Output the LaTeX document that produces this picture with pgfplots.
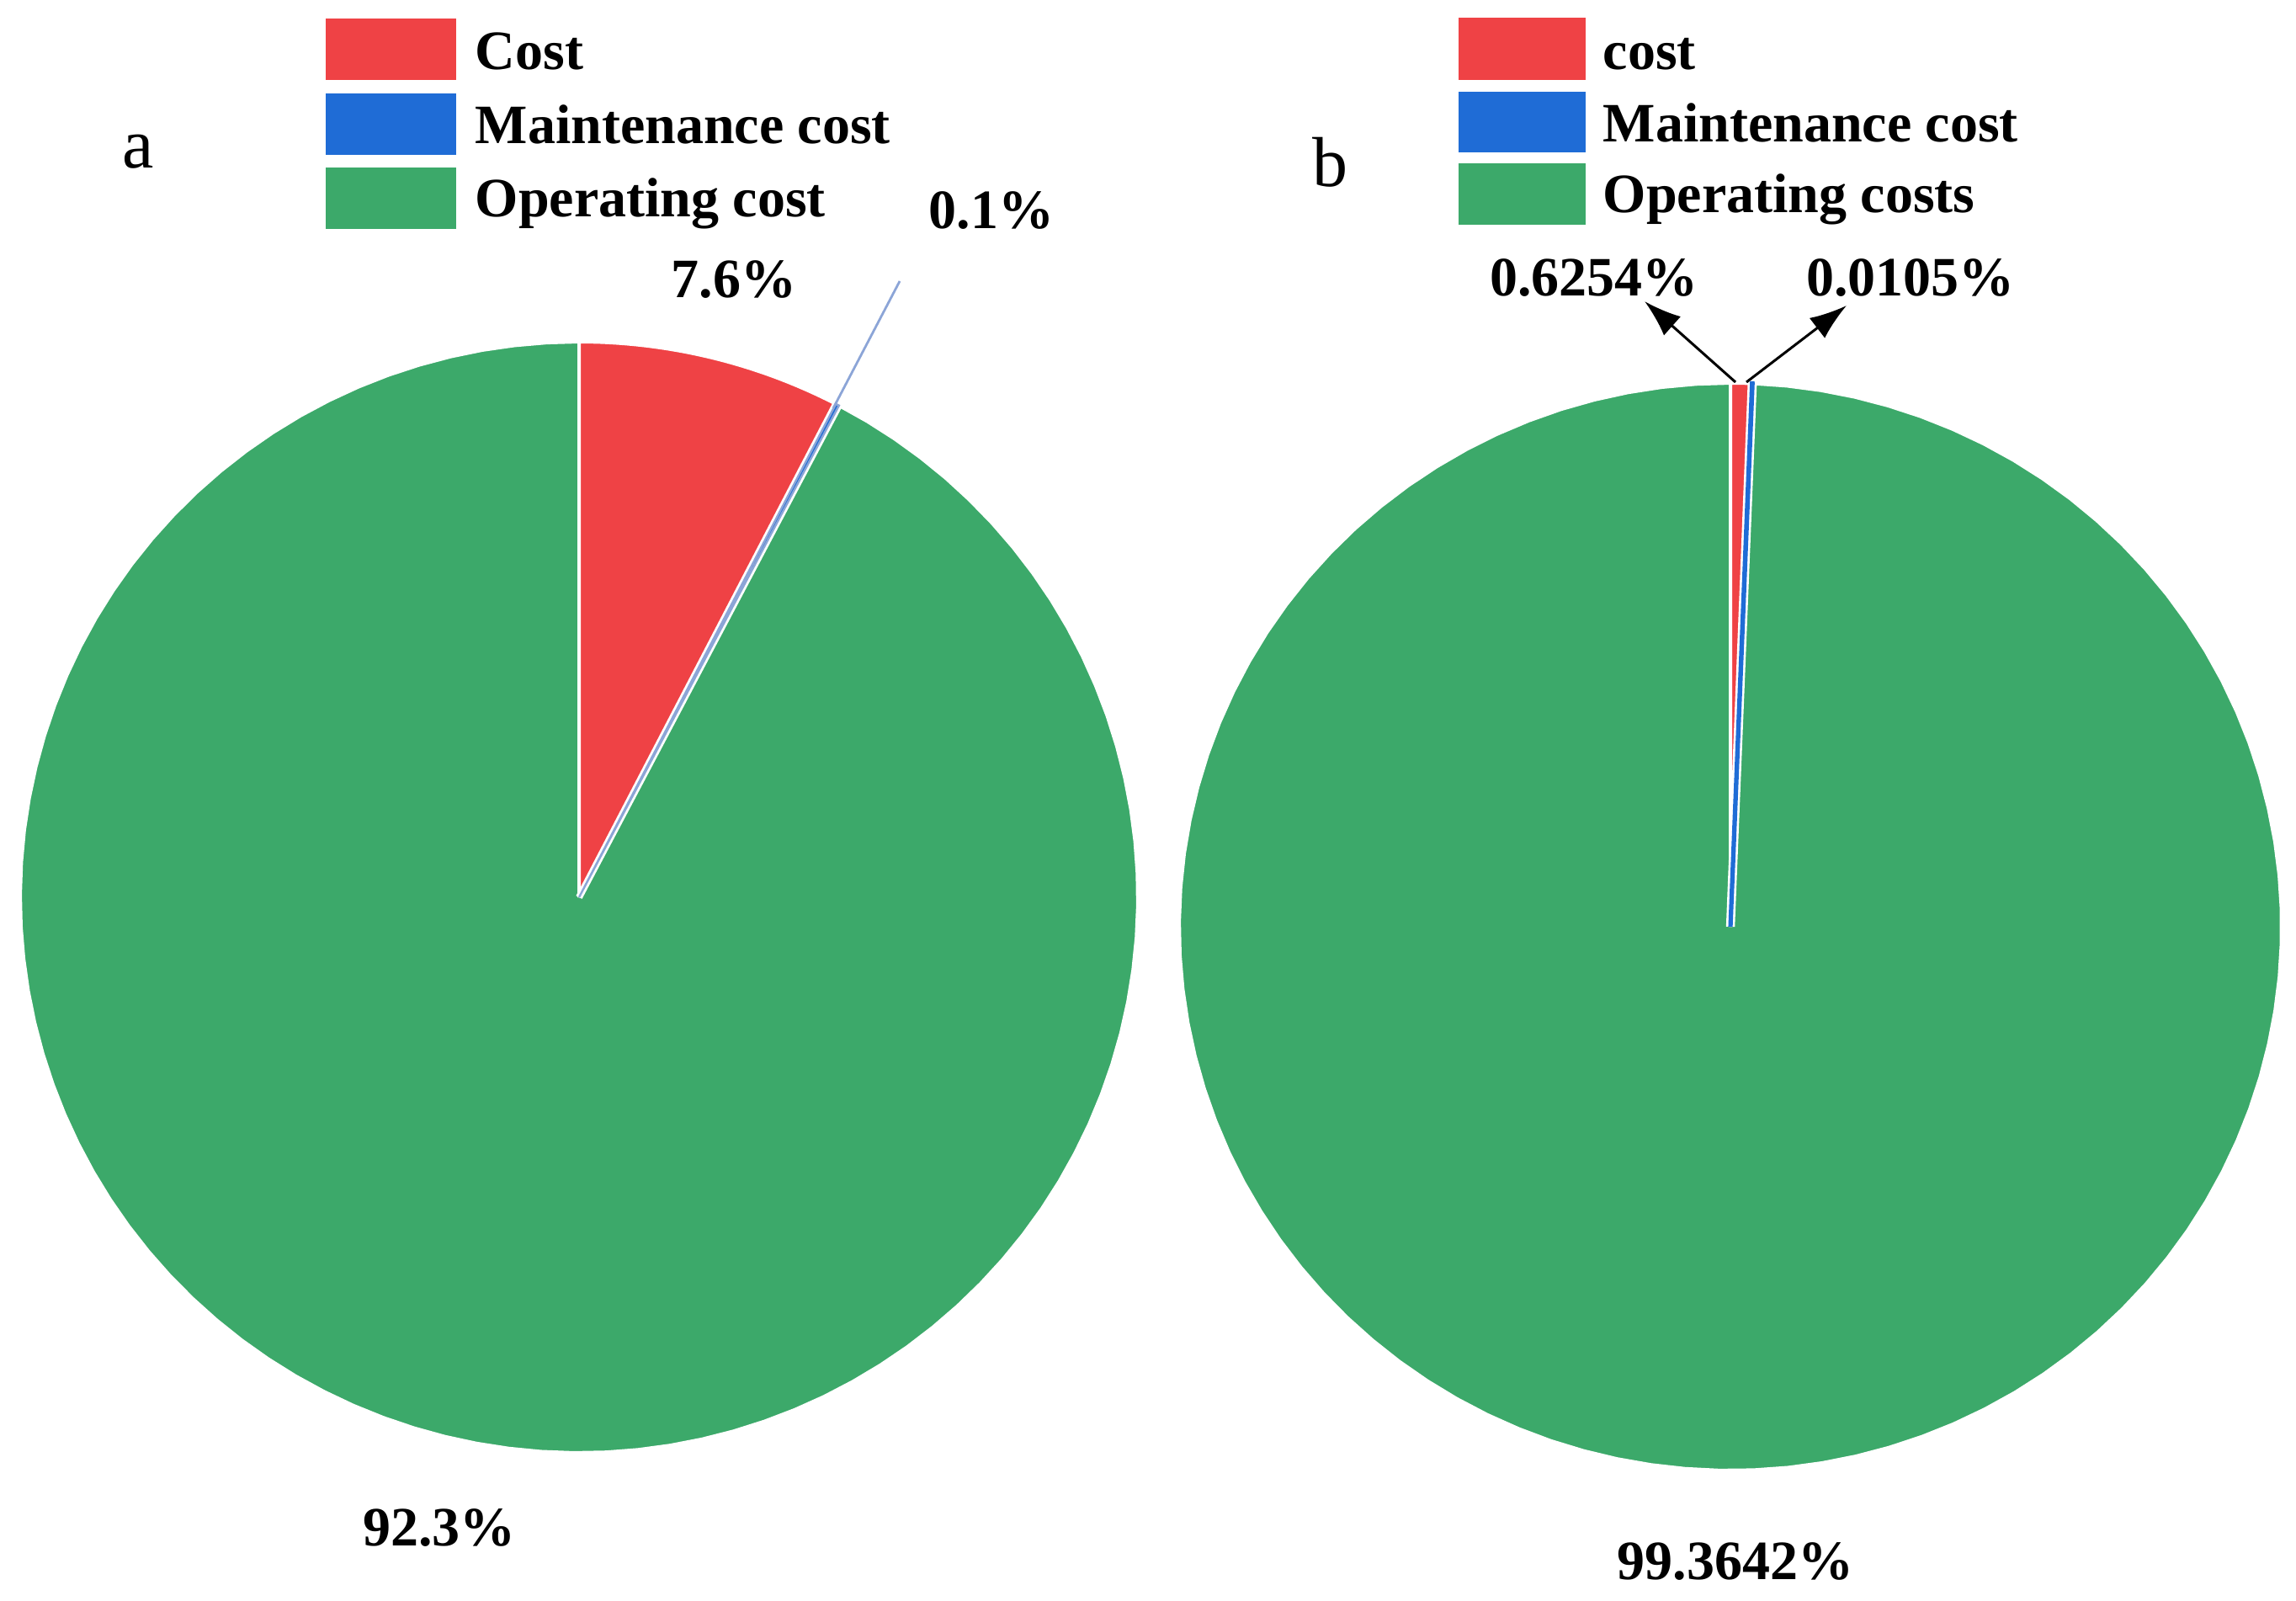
\documentclass[border=0pt]{standalone}
\usepackage{fontspec}
\setmainfont{Liberation Serif}
\usepackage{pgfplots}
\pgfplotsset{compat=1.18}
\usepackage{pgfplotstable}
\usetikzlibrary{arrows.meta}

\definecolor{mred}{RGB}{239,66,69}
\definecolor{mblue}{RGB}{31,108,214}
\definecolor{mgreen}{RGB}{60,169,106}
\definecolor{lead}{RGB}{140,165,215}

\pgfplotstableread{
part pct
Cost 7.6
Maintenance 0.1
Operating 92.3
}\tableA
\pgfplotstableread{
part pct
Cost 0.6254
Maintenance 0.0105
Operating 99.3642
}\tableB

\newcommand{\lab}{\bfseries\fontsize{16.5}{19.8}\selectfont}
\newcommand{\panel}{\fontsize{21}{25}\selectfont}

% wedge: cx, cy, rx, ry, from pct, to pct, style
\newcommand{\slice}[7]{%
  \addplot[forget plot, #7, samples at={-1,0,...,101}, variable=\t]
   ({#1+(\t>-0.5)*(\t<100.5)*#3*sin(3.6*(#5+(#6-#5)*\t/100))},
    {#2-(\t>-0.5)*(\t<100.5)*#4*cos(3.6*(#5+(#6-#5)*\t/100))});
}
% legend row: box x0, x1, y0, y1, colour, text x, baseline y, text
\newcommand{\legrow}[8]{%
  \fill[#5] (axis cs:#1,#3) rectangle (axis cs:#2,#4);
  \node[anchor=base west, inner sep=0pt, font=\lab] at (axis cs:#6,#7) {#8};
}

\pgfplotsset{
  canvas/.style={at={(0,0)}, anchor=south west, scale only axis,
    width=682pt, height=475.5pt, xmin=0, xmax=2728, ymin=0, ymax=1902,
    y dir=reverse, hide axis, clip=false},
}

\begin{document}
\begin{tikzpicture}
\path[use as bounding box] (0,0) rectangle (682pt,475.5pt);

% ---------------- panel a ----------------
\pgfplotstablegetelem{0}{pct}\of\tableA \let\aR\pgfplotsretval
\pgfplotstablegetelem{1}{pct}\of\tableA \let\aB\pgfplotsretval
\pgfplotstablegetelem{2}{pct}\of\tableA \let\aG\pgfplotsretval
\pgfmathsetmacro{\aRB}{\aR+\aB}
\pgfmathsetmacro{\aEnd}{\aRB+\aG}
\begin{axis}[canvas]
  \slice{688}{1066}{664}{660}{\aRB}{\aEnd}{fill=mgreen, draw=white, line width=1pt}
  \slice{688}{1066}{664}{660}{0}{\aR}{fill=mred, draw=white, line width=1pt}
  \slice{688}{1066}{664}{660}{\aR}{\aRB}{draw=white, line width=2pt}
  \slice{688}{1066}{664}{660}{\aR}{\aRB}{fill=mblue, draw=lead, line width=0.6pt}
  \addplot[forget plot, lead, line width=0.7pt] coordinates {(990,485) (1069,334)};
  \legrow{387}{542}{22}{95}{mred}{564}{83}{Cost}
  \legrow{387}{542}{111}{184}{mblue}{564}{171}{Maintenance cost}
  \legrow{387}{542}{199}{272}{mgreen}{564}{258}{Operating cost}
  \node[anchor=base, font=\panel] at (axis cs:164,200) {a};
  \node[anchor=base, font=\lab] at (axis cs:872,354) {7.6\%};
  \node[anchor=base, font=\lab] at (axis cs:1178,272) {0.1\%};
  \node[anchor=base, font=\lab] at (axis cs:522,1836) {92.3\%};
\end{axis}

% ---------------- panel b ----------------
\pgfplotstablegetelem{0}{pct}\of\tableB \let\bR\pgfplotsretval
\pgfplotstablegetelem{1}{pct}\of\tableB \let\bB\pgfplotsretval
\pgfplotstablegetelem{2}{pct}\of\tableB \let\bG\pgfplotsretval
\pgfmathsetmacro{\bRB}{\bR+\bB}
\pgfmathsetmacro{\bEnd}{\bRB+\bG}
\begin{axis}[canvas]
  \slice{2056}{1101}{655}{646}{\bRB}{\bEnd}{fill=mgreen, draw=white, line width=1pt}
  \slice{2056}{1101}{655}{646}{0}{\bR}{fill=mred, draw=white, line width=1pt}
  \slice{2056}{1101}{655}{646}{\bR}{\bRB}{draw=white, line width=2.6pt}
  \slice{2056}{1101}{655}{646}{\bR}{\bRB}{fill=mblue, draw=mblue, line width=1.3pt}
  \addplot[forget plot, black, line width=0.75pt, -{Latex[length=11pt,width=7.5pt]}]
    coordinates {(2062,454) (1954,358)};
  \addplot[forget plot, black, line width=0.75pt, -{Latex[length=11pt,width=7.5pt]}]
    coordinates {(2075,454) (2194,363)};
  \legrow{1733}{1884}{21}{95}{mred}{1904}{83}{cost}
  \legrow{1733}{1884}{109}{181}{mblue}{1904}{169}{Maintenance cost}
  \legrow{1733}{1884}{194}{267}{mgreen}{1904}{253}{Operating costs}
  \node[anchor=base, font=\panel] at (axis cs:1580,222) {b};
  \node[anchor=base, font=\lab] at (axis cs:1894,352) {0.6254\%};
  \node[anchor=base, font=\lab] at (axis cs:2270,352) {0.0105\%};
  \node[anchor=base, font=\lab] at (axis cs:2062,1876) {99.3642\%};
\end{axis}
\end{tikzpicture}
\end{document}
